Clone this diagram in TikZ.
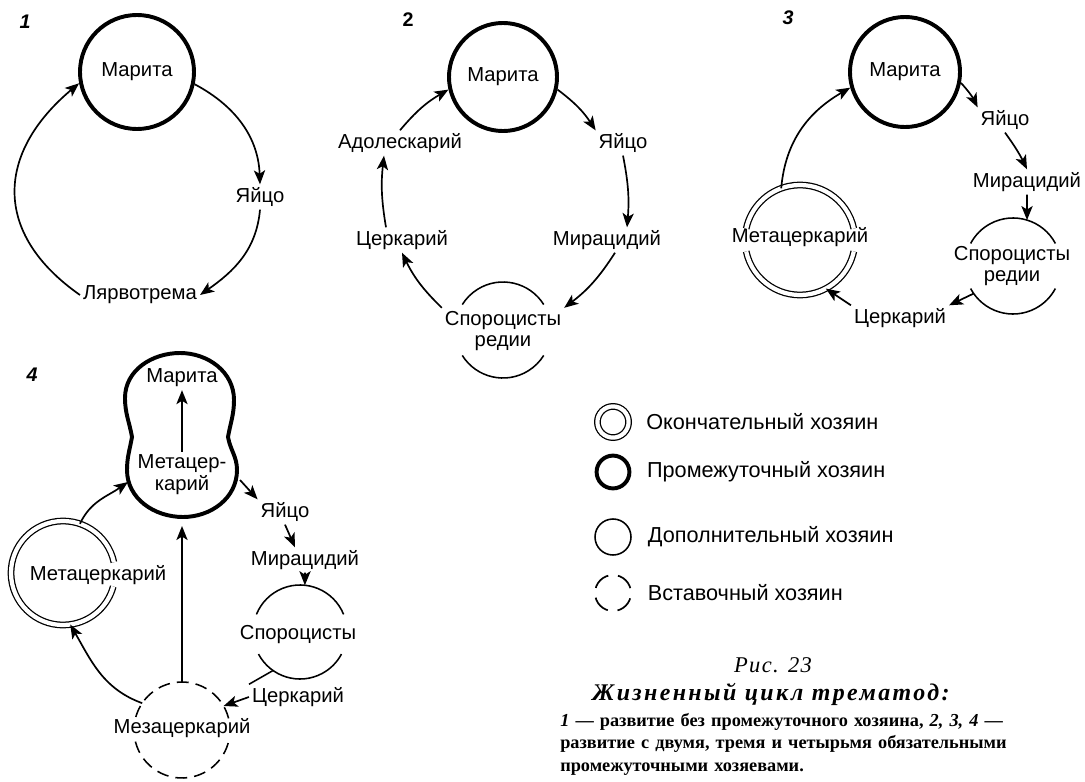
\documentclass[tikz,border=0pt]{standalone}
\usepackage{fontspec}
\setmainfont{Liberation Serif}
\setsansfont{Liberation Sans}
\usetikzlibrary{arrows.meta,positioning}

\begin{document}
\begin{tikzpicture}[x=0.025cm,y=0.025cm,
  lbl/.style={font=\sffamily\fontsize{14.4}{15.6}\selectfont,inner sep=2pt},
  leg/.style={font=\sffamily\fontsize{15.4}{17}\selectfont,inner sep=1pt},
  pnum/.style={font=\sffamily\bfseries\itshape\fontsize{14}{16}\selectfont},
  prom/.style={circle,draw,line width=2.8pt,inner sep=0pt,font=\sffamily\fontsize{14.4}{15.6}\selectfont},
  hole/.style={circle,inner sep=0pt,outer sep=0pt},
  thin/.style={line width=1.1pt},
  dbl/.style={double,double distance=3pt,line width=0.9pt},
  vst/.style={line width=1.1pt,dash pattern=on 8.5pt off 5pt},
  arr/.style={-{Stealth[length=10pt,width=8pt,inset=2.5pt]},line width=1.2pt}]
\useasboundingbox (0,0) rectangle (1085,-782);

\node[pnum] (p1) at (25,-22) {1};
\node[prom,minimum size=2.85cm] (mar1) at (137,-72) {Марита};
\node[lbl] (jaj1) at (260,-197) {Яйцо};
\node[lbl] (lyar1) at (140,-295) {Лярвотрема};
\draw[arr] (mar1.-12) to[out=-28,in=92] (jaj1.north);
\draw[arr] (jaj1.south) to[out=-95,in=35] (lyar1.east);
\draw[arr] (lyar1.west) to[out=145,in=-140,looseness=1.3] (mar1.191);

\node[pnum,font=\sffamily\bfseries\fontsize{14}{16}\selectfont] (p2) at (408,-20) {2};
\node[prom,minimum size=2.7cm] (mar2) at (503,-77) {Марита};
\node[lbl] (jaj2) at (623,-143) {Яйцо};
\node[lbl] (mir2) at (607,-240) {Мирацидий};
\node[hole,minimum size=2.4cm] (sc2) at (503,-330) {};
\node[lbl,align=center] (spor2) at (503,-331) {Спороцисты\\редии};
\node[lbl] (cerk2) at (402,-240) {Церкарий};
\node[lbl] (adol2) at (400,-143) {Адолескарий};
\draw[thin] (sc2.32) arc[start angle=32,end angle=148,radius=48];
\draw[thin] (sc2.212) arc[start angle=212,end angle=328,radius=48];
\draw[arr] (mar2.-13) to[bend left=10] (jaj2.north west);
\draw[arr] (jaj2.south) to[bend left=8] ([xshift=0.5cm]mir2.north);
\draw[arr] ([xshift=0.2cm]mir2.south) to[bend left=10] (spor2.north east);
\draw[arr] (spor2.north west) to[bend left=10] (cerk2.south);
\draw[arr] ([xshift=-0.4cm]cerk2.north) to[bend left=8] ([xshift=-0.4cm]adol2.south);
\draw[arr] (adol2.north) to[bend left=10] (mar2.193);

\node[pnum] (p3) at (788,-18) {3};
\node[prom,minimum size=2.75cm] (mar3) at (905,-72) {Марита};
\node[lbl] (jaj3) at (1005,-120) {Яйцо};
\node[lbl] (mir3) at (1027,-182) {Мирацидий};
\node[hole,minimum size=2.4cm] (sc3) at (1013,-266) {};
\node[lbl,align=center] (spor3) at (1012,-266) {Спороцисты\\редии};
\node[lbl] (cerk3) at (900,-318) {Церкарий};
\node[hole,minimum size=2.75cm] (mc3) at (800,-240) {};
\node[lbl] (meta3) at (800,-237) {Метацеркарий};
\draw[thin] (sc3.28) arc[start angle=28,end angle=152,radius=48];
\draw[thin] (sc3.208) arc[start angle=208,end angle=332,radius=48];
\draw[dbl] (mc3.12) arc[start angle=12,end angle=168,radius=55];
\draw[dbl] (mc3.192) arc[start angle=192,end angle=348,radius=55];
\draw[arr] (mar3.-11) to[bend left=8] (jaj3.north west);
\draw[arr] (jaj3.south) to[bend left=5] (mir3.north);
\draw[arr] (mir3.south) -- (sc3.73);
\draw[arr] (sc3.215) -- (cerk3.north east);
\draw[arr] (cerk3.north west) -- (mc3.-62);
\draw[arr] (mc3.110) to[out=85,in=-150] (mar3.196);

\node[pnum] (p4) at (32,-375) {4};
\draw[line width=2.8pt] (228,-437) to[out=80,in=-90] (234,-400) to[out=90,in=0] (180,-353)
  to[out=180,in=90] (125,-398) to[out=-90,in=100] (132,-437) to[out=-100,in=90] (127,-470)
  to[out=-90,in=180] (183,-517) to[out=0,in=-90] (237,-470) to[out=90,in=-80] (228,-437) -- cycle;
\coordinate (pl4) at (128,-482);
\coordinate (pr4) at (240,-480);
\coordinate (pb4) at (182,-526);
\node[lbl] (mar4) at (182,-378) {Марита};
\node[lbl,align=center] (mtp4) at (182,-475) {Метацер-\\карий};
\node[lbl] (jaj4) at (285,-512) {Яйцо};
\node[lbl] (mir4) at (305,-560) {Мирацидий};
\node[hole,minimum size=2.35cm] (sc4) at (300,-632) {};
\node[lbl] (spor4) at (298,-635) {Спороцисты};
\node[lbl] (cerk4) at (298,-697) {Церкарий};
\node[hole,minimum size=2.6cm] (mc4) at (63,-573) {};
\node[lbl] (meta4) at (98,-575) {Метацеркарий};
\node[hole,minimum size=2.4cm] (mzc4) at (182,-730) {};
\node[lbl] (mez4) at (182,-728) {Мезацеркарий};
\draw[thin] (sc4.22) arc[start angle=22,end angle=158,radius=47];
\draw[thin] (sc4.208) arc[start angle=208,end angle=332,radius=47];
\draw[dbl] (mc4.12) arc[start angle=12,end angle=345,radius=52];
\draw[vst] (mzc4.14) arc[start angle=14,end angle=166,radius=48];
\draw[vst] (mzc4.194) arc[start angle=194,end angle=346,radius=48];
\draw[arr] (mtp4.north) -- (mar4.south);
\draw[arr] (mc4.71) to[out=65,in=-145] (pl4);
\draw[arr] (mzc4.146) to[out=160,in=-60] (mc4.-82);
\draw[arr] (mzc4.north) -- (pb4);
\draw[arr] (pr4) -- (jaj4.north west);
\draw[arr] (jaj4.south) -- ([xshift=-0.25cm]mir4.north);
\draw[arr] (mir4.south) -- (sc4.84);
\draw[thin] (sc4.235) -- (cerk4.north west);
\draw[arr] (cerk4.west) -- (mzc4.30);

\node[hole,dbl,draw,minimum size=0.78cm] (lg1) at (613,-422) {};
\node[hole,draw,line width=2.8pt,minimum size=0.82cm] (lg2) at (613,-472) {};
\node[hole,draw,thin,minimum size=0.9cm] (lg3) at (613,-537) {};
\node[hole,draw,line width=1.2pt,dash pattern=on 13pt off 7pt,dash phase=16.5pt,minimum size=0.9cm] (lg4) at (613,-593) {};
\node[leg,right=0.4cm of lg1] (lt1) {Окончательный хозяин};
\node[leg,right=0.4cm of lg2] (lt2) {Промежуточный хозяин};
\node[leg,right=0.38cm of lg3] (lt3) {Дополнительный хозяин};
\node[leg,right=0.38cm of lg4] (lt4) {Вставочный хозяин};

\node[font=\itshape\fontsize{16}{18}\selectfont\addfontfeature{LetterSpace=6}] (ris) at (773,-665) {Рис. 23};
\node[font=\bfseries\itshape\fontsize{17}{19}\selectfont\addfontfeature{LetterSpace=10}] (ttl) at (771,-694) {Жизненный цикл трематод:};
\node[font=\bfseries\fontsize{13}{16}\selectfont,anchor=north west,inner sep=0pt,text width=12.8cm,align=left] (expl) at (560,-713)
  {\makebox[12.8cm][s]{\textit{1} — развитие без промежуточного хозяина, \textit{2, 3, 4} —}\\
   \makebox[12.8cm][s]{развитие с двумя, тремя и четырьмя обязательными}\\
   промежуточными хозяевами.};
\end{tikzpicture}
\end{document}
